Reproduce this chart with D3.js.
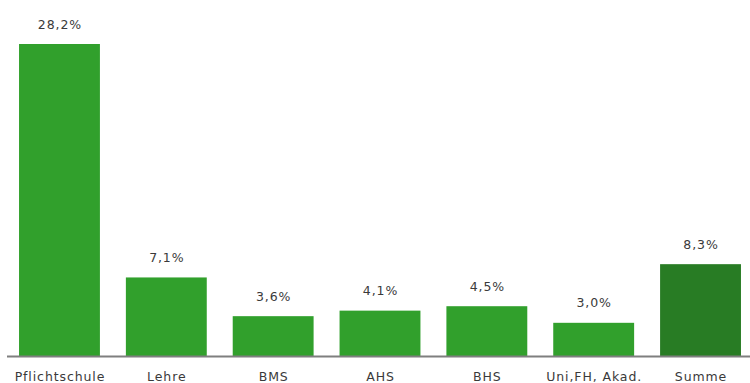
<!DOCTYPE html>
<html>
<head>
<meta charset="utf-8">
<script src="https://cdn.jsdelivr.net/npm/d3@7"></script>
<style>
  body { margin: 0; background: #fff; }
  text { font-family: "DejaVu Sans", Verdana, sans-serif; fill: #3a3a3a; letter-spacing: 0.9px; }
</style>
</head>
<body>
<div id="chart"></div>
<script>
// Categories and values (percent)
const categories = ["Pflichtschule", "Lehre", "BMS", "AHS", "BHS", "Uni,FH, Akad.", "Summe"];
const values = [28.2, 7.1, 3.6, 4.1, 4.5, 3.0, 8.3];
const valueLabels = ["28,2%", "7,1%", "3,6%", "4,1%", "4,5%", "3,0%", "8,3%"];

const W = 750, H = 383;
const baseline = 356;

const svg = d3.select("#chart")
  .append("svg")
  .attr("width", W)
  .attr("height", H);

// x scale: one band per category
const x = d3.scaleBand()
  .domain(categories)
  .range([6, 754])
  .paddingInner(0.243)
  .paddingOuter(0.122);

// y scale: baseline to top
const y = d3.scaleLinear().domain([0, 28.2]).range([baseline, 44]);

const data = categories.map((c, i) => ({ cat: c, value: values[i], label: valueLabels[i] }));

// bars
svg.selectAll("rect.bar")
  .data(data)
  .join("rect")
  .attr("class", "bar")
  .attr("x", d => x(d.cat))
  .attr("y", d => y(d.value))
  .attr("width", x.bandwidth())
  .attr("height", d => y(0) - y(d.value))
  .attr("fill", d => d.cat === "Summe" ? "#287c24" : "#31a02c");

// axis line
svg.append("line")
  .attr("x1", 7)
  .attr("x2", W)
  .attr("y1", baseline + 0.5)
  .attr("y2", baseline + 0.5)
  .attr("stroke", "#7f7f7f")
  .attr("stroke-width", 2);

// value labels
svg.selectAll("text.val")
  .data(data)
  .join("text")
  .attr("class", "val")
  .attr("x", d => x(d.cat) + x.bandwidth() / 2 + 0.5)
  .attr("y", d => y(d.value) - 15.5)
  .attr("text-anchor", "middle")
  .attr("font-size", 12.5)
  .text(d => d.label);

// category labels
svg.selectAll("text.cat")
  .data(data)
  .join("text")
  .attr("class", "cat")
  .attr("x", d => x(d.cat) + x.bandwidth() / 2 + 0.5)
  .attr("y", 380.5)
  .attr("text-anchor", "middle")
  .attr("font-size", 12.5)
  .text(d => d.cat);
</script>
</body>
</html>
